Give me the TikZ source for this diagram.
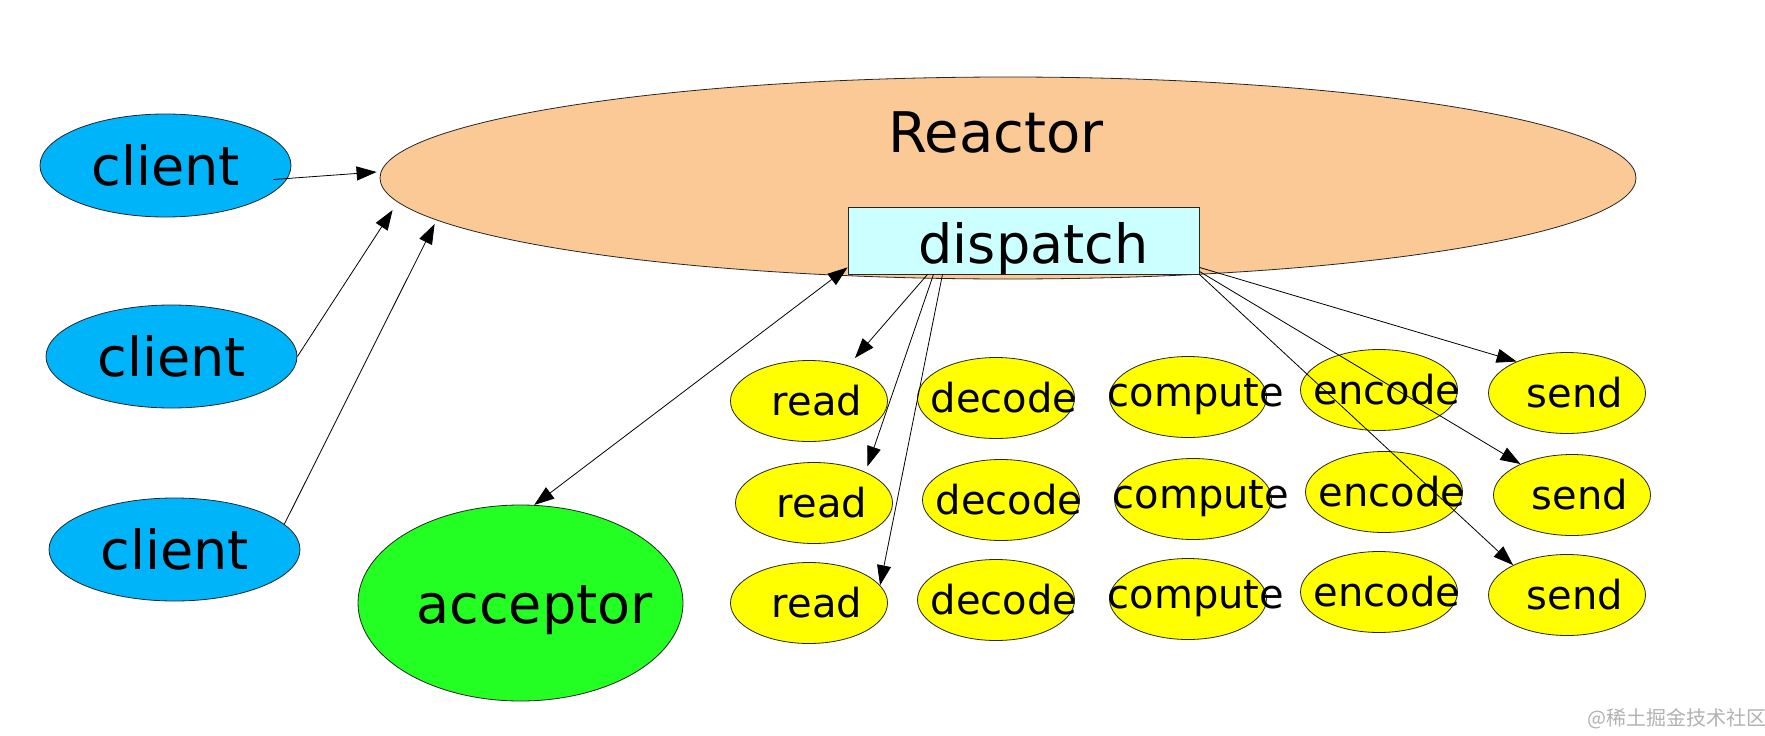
\documentclass[tikz,border=0pt]{standalone}
\usepackage{fontspec}
\setmainfont{DejaVu Sans}
\newfontfamily\cjkfont{Noto Sans CJK SC}
\usepackage{tikz}
\usetikzlibrary{calc, positioning, arrows.meta, shapes.geometric}
\definecolor{reactorpeach}{RGB}{250,201,150}
\definecolor{clientblue}{RGB}{0,180,250}
\definecolor{acceptorgreen}{RGB}{35,255,35}
\definecolor{dispatchcyan}{RGB}{204,255,255}
\definecolor{taskyellow}{RGB}{255,255,0}
\tikzset{
    bigtext/.style={font=\fontsize{54}{60}\selectfont},
    tasktext/.style={font=\fontsize{40}{46}\selectfont, xshift=8pt},
    reactor/.style={ellipse, draw=black!85, line width=0.8pt, fill=reactorpeach, minimum width=1256pt, minimum height=202pt, inner sep=0pt},
    dispatch/.style={rectangle, draw=black!85, line width=0.8pt, fill=dispatchcyan, minimum width=351pt, minimum height=67pt, inner sep=0pt},
    client/.style={ellipse, draw=black!85, line width=0.8pt, fill=clientblue, minimum width=251pt, minimum height=103pt, inner sep=0pt, bigtext},
    acceptor/.style={ellipse, draw=black!85, line width=0.8pt, fill=acceptorgreen, minimum width=325pt, minimum height=196pt, inner sep=0pt},
    task/.style={ellipse, draw=black!85, line width=0.8pt, fill=taskyellow, minimum width=157pt, minimum height=81pt, inner sep=0pt, label={[tasktext]center:#1}},
    arrow/.style={-{Triangle[length=20pt, width=14pt]}, line width=0.8pt},
    twoway/.style={{Triangle[length=20pt, width=14pt]}-{Triangle[length=20pt, width=14pt]}, line width=0.8pt},
    watermark/.style={font=\cjkfont\fontsize{20}{24}\selectfont, text=gray!60}
}

\begin{document}
\begin{tikzpicture}[x=1pt, y=-1pt]
    \fill[white] (0,0) rectangle (1765,736);
    \useasboundingbox (0,0) rectangle (1765,736);

    % Reactor with its dispatcher
    \node[reactor, label={[font=\fontsize{56}{62}\selectfont, xshift=-12pt, yshift=46pt]center:Reactor}] (reactor) at (1008,178) {};
    \node[dispatch, label={[bigtext, xshift=10pt, yshift=-8pt]center:dispatch}] (dispatch) at (1023.5,240.5) {};

    % Clients
    \node[client] (client1) at (165.5,165.5) {client};
    \node[client] (client2) at (171.5,356.5) {client};
    \node[client] (client3) at (174.5,549.5) {client};

    % Acceptor
    \node[acceptor, label={[bigtext, xshift=14pt, yshift=-7pt]center:acceptor}] (acceptor) at (520.5,603) {};

    % Handlers (read ... send)
    \foreach \r/\dx/\dy in {1/0/0, 2/5/102, 3/0/202}
        \foreach \job/\x/\y in {read/809/401, decode/996/398, compute/1188/397, encode/1379/390, send/1567/393}
            \node[task=\job] (\job\r) at (\x+\dx, \y+\dy) {};

    % Clients to reactor
    \draw[arrow] ($(client1.east)+(-18,14)$) -- ($(reactor.west)+(-3,-6)$);
    \draw[arrow] (client2.east) -- ($(reactor.west)+(13,32)$);
    \draw[arrow] (client3.13) -- ($(reactor.west)+(55,46)$);

    % Dispatch to acceptor and handlers
    \draw[twoway] ($(dispatch.south west)+(0,-7)$) -- (acceptor.82);
    \draw[arrow, shorten >=10pt] ($(dispatch.south)+(-96,0)$) -- (read1.42);
    \draw[arrow, shorten >=6pt] ($(dispatch.south)+(-90,0)$) -- (read2.31);
    \draw[arrow] ($(dispatch.south)+(-81,0)$) -- (read3.14);
    \draw[arrow] ($(dispatch.south east)+(0,-7)$) -- (send1.148);
    \draw[arrow] ($(dispatch.south east)+(0,-3)$) -- (send2.149);
    \draw[arrow] (dispatch.south east) -- (send3.151);

    \node[watermark] (mark) at (1677,719) {@稀土掘金技术社区};
\end{tikzpicture}
\end{document}
